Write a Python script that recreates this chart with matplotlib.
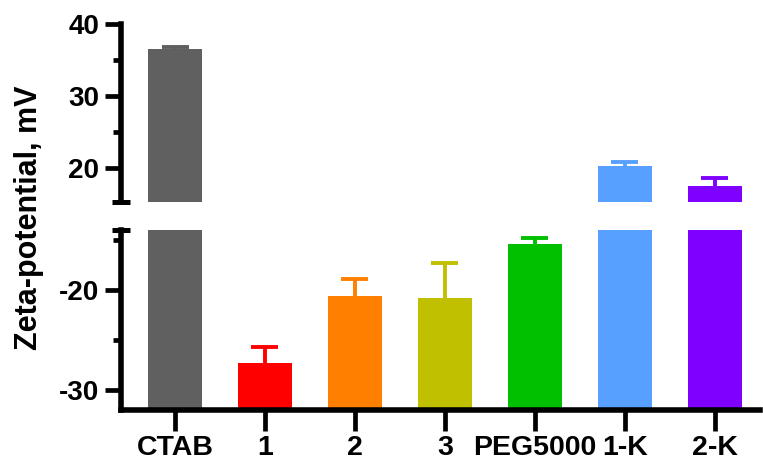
import matplotlib
matplotlib.use("Agg")
import matplotlib.pyplot as plt
import numpy as np

plt.rcParams['font.family'] = ['Liberation Sans', 'DejaVu Sans']
plt.rcParams['font.weight'] = 'bold'
plt.rcParams['axes.unicode_minus'] = False

categories = ["CTAB", "1", "2", "3", "PEG5000", "1-K", "2-K"]
means = [36.5, -27.25, -20.6, -20.8, -15.4, 20.3, 17.55]
sd = [0.35, 1.6, 1.7, 3.55, 0.6, 0.6, 1.05]
colors = ["#606060", "#ff0000", "#ff8000", "#c0c000", "#00c000", "#58a0ff", "#8000ff"]

upper_lim = (15.3, 40)
lower_lim = (-32, -14)
baseline = -32

fig = plt.figure(figsize=(7.63, 4.61), dpi=100)
left, right = 0.1586, 0.996
ax_top = fig.add_axes([left, 0.5618, right - left, 0.948 - 0.5618])
ax_bot = fig.add_axes([left, 0.1106, right - left, 0.501 - 0.1106])

x = np.arange(len(categories))
bar_w = 0.6
cap_w = 0.3
spine_lw = 4.0
err_lw = 2.8

for ax, lim in ((ax_top, upper_lim), (ax_bot, lower_lim)):
    heights = [m - baseline for m in means]
    ax.bar(x, heights, bottom=baseline, width=bar_w, color=colors, edgecolor='none', zorder=2)
    tops = [m + s for m, s in zip(means, sd)]
    ax.vlines(x, means, tops, colors=colors, lw=err_lw, zorder=1)
    ax.hlines(tops, x - cap_w / 2, x + cap_w / 2, colors=colors, lw=err_lw, zorder=3)
    ax.set_xlim(-0.6, 6.5)
    ax.set_ylim(*lim)
    for s in ('top', 'right'):
        ax.spines[s].set_visible(False)
    ax.spines['left'].set_linewidth(spine_lw)
    ax.spines['bottom'].set_linewidth(spine_lw)
    ax.tick_params(axis='y', which='major', length=11.5, width=3.4, labelsize=20, pad=4)
    ax.tick_params(axis='y', which='minor', length=5.8, width=3.4)
    ax.patch.set_alpha(0)

# upper segment
ax_top.spines['bottom'].set_visible(False)
ax_top.set_xticks([])
ax_top.set_yticks([20, 30, 40])
ax_top.set_yticks([25, 35], minor=True)

# lower segment
ax_bot.set_yticks([-20, -30])
ax_bot.set_yticks([-15, -25], minor=True)
ax_bot.set_xticks(x)
ax_bot.set_xticklabels(categories)
ax_bot.tick_params(axis='x', length=15, width=3.4, labelsize=20.5, pad=3)

# break caps at the ends of the two y-axis segments
ax_top.plot([0], [0], transform=ax_top.transAxes, marker='_', ms=13.5,
            mew=3.6, color='black', clip_on=False, zorder=5)
ax_bot.plot([0], [1], transform=ax_bot.transAxes, marker='_', ms=13.5,
            mew=3.6, color='black', clip_on=False, zorder=5)

fig.text(0.038, 0.527, "Zeta-potential, mV", rotation=90, ha='center', va='center',
         fontsize=22, fontweight='bold')

fig.savefig("out.png", dpi=100)
